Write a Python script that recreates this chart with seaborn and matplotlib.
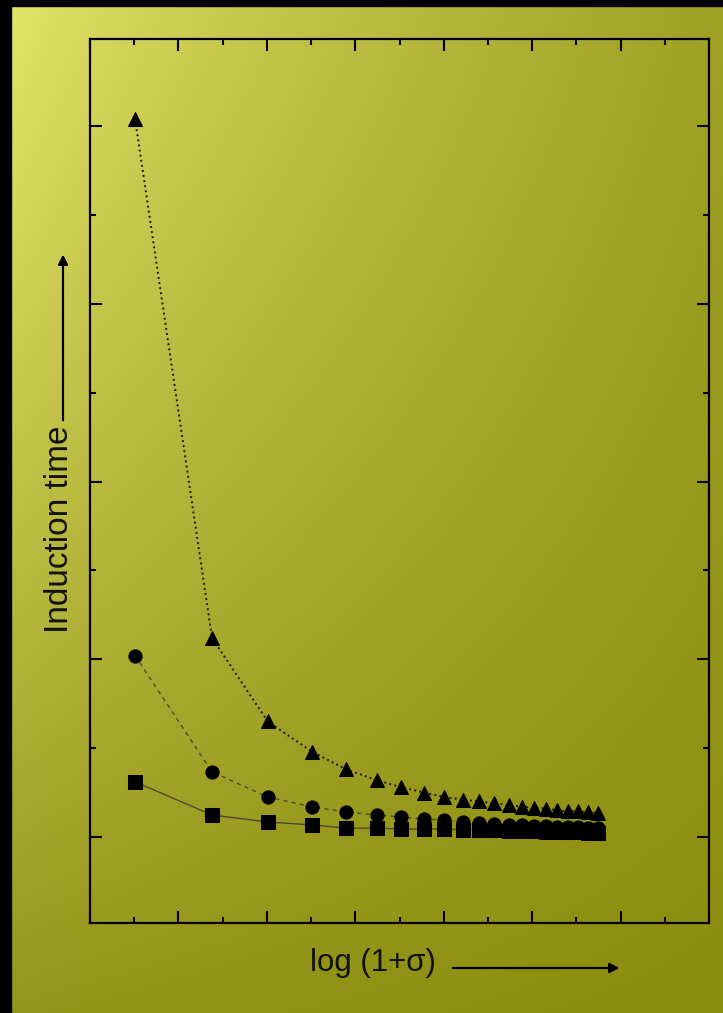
import numpy as np
import seaborn as sns
import matplotlib.pyplot as plt
from matplotlib.ticker import MultipleLocator
from matplotlib.patches import Rectangle

# data (arbitrary units, no tick labels in the original)
log_sigma = [0.51, 1.38, 2.01, 2.51, 2.90, 3.24, 3.52, 3.78, 4.00, 4.22, 4.40,
             4.57, 4.74, 4.89, 5.02, 5.16, 5.28, 5.40, 5.52, 5.63, 5.74]
t_triangle = [5.04, 2.12, 1.65, 1.48, 1.38, 1.32, 1.28, 1.25, 1.225, 1.21, 1.20,
              1.19, 1.18, 1.17, 1.165, 1.16, 1.15, 1.145, 1.145, 1.14, 1.135]
t_circle = [2.02, 1.366, 1.225, 1.17, 1.14, 1.124, 1.113, 1.10, 1.096, 1.084, 1.079,
            1.073, 1.068, 1.068, 1.062, 1.062, 1.056, 1.056, 1.056, 1.05, 1.05]
t_square = [1.31, 1.124, 1.084, 1.068, 1.05, 1.05, 1.045, 1.045, 1.045, 1.04, 1.04,
            1.04, 1.034, 1.034, 1.034, 1.028, 1.028, 1.028, 1.028, 1.022, 1.022]

sns.set_style("ticks")
plt.rcParams['font.family'] = ['Liberation Sans', 'DejaVu Sans']

W, H = 723, 1013
fig = plt.figure(figsize=(W / 100, H / 100), dpi=100)

# gradient background: light yellow top-left to olive bottom-right
u = np.linspace(0, 1, W)[None, :] ** 0.75
v = np.linspace(0, 1, H)[:, None] ** 1.1
tl, tr, bl, br = (232, 232, 110), (160, 160, 38), (150, 150, 30), (140, 140, 15)
img = np.zeros((H, W, 3))
for c in range(3):
    img[:, :, c] = (tl[c] * (1 - u) * (1 - v) + tr[c] * u * (1 - v)
                    + bl[c] * (1 - u) * v + br[c] * u * v) / 255
bg = fig.add_axes([0, 0, 1, 1], zorder=-1)
bg.imshow(img, aspect='auto', extent=[0, 1, 0, 1])
bg.axis('off')

# black border on left and top
fig.patches.append(Rectangle((0, 0), 11 / W, 1, transform=fig.transFigure, color='black', zorder=0))
fig.patches.append(Rectangle((0, 1 - 6 / H), 1, 6 / H, transform=fig.transFigure, color='black', zorder=0))

ax = fig.add_axes([90 / W, 1 - 923 / H, (709 - 90) / W, (923 - 39) / H])
ax.set_facecolor('none')

sns.lineplot(x=log_sigma, y=t_triangle, ax=ax, color='#1a1a1a', linestyle=':', linewidth=1.4,
             marker='^', markersize=10, markerfacecolor='k', markeredgecolor='k',
             sort=False, estimator=None)
sns.lineplot(x=log_sigma, y=t_circle, ax=ax, color='#4a4a30', linestyle=(0, (3, 3)), linewidth=1.0,
             marker='o', markersize=9.5, markerfacecolor='k', markeredgecolor='k',
             sort=False, estimator=None)
sns.lineplot(x=log_sigma, y=t_square, ax=ax, color='#4a4a30', linestyle='-', linewidth=1.0,
             marker='s', markersize=10, markerfacecolor='k', markeredgecolor='k',
             sort=False, estimator=None)

ax.set_xlim(0, 7)
ax.set_ylim(0.516, 5.49)
ax.xaxis.set_major_locator(MultipleLocator(1))
ax.xaxis.set_minor_locator(MultipleLocator(0.5))
ax.yaxis.set_major_locator(MultipleLocator(1))
ax.yaxis.set_minor_locator(MultipleLocator(0.5))
ax.tick_params(which='both', direction='in', top=True, right=True,
               labelbottom=False, labelleft=False, width=1.5, color='k')
ax.tick_params(which='major', length=8.6)
ax.tick_params(which='minor', length=4.3)
for s in ax.spines.values():
    s.set_linewidth(1.6)
    s.set_color('k')
ax.set_xlabel('')
ax.set_ylabel('')

# axis captions with arrows
fig.text(60 / W, 1 - 633 / H, 'Induction time', rotation=90, ha='center', va='bottom',
         fontsize=24, color='#111111')
fig.text(310 / W, 1 - 963 / H, 'log (1+σ)', ha='left', va='center', fontsize=22.5, color='#111111')
arrow = dict(arrowstyle='-|>', color='k', lw=1.5, mutation_scale=14)
fig.add_artist(plt.annotate('', xy=(63 / W, 1 - 252 / H), xytext=(63 / W, 1 - 423 / H),
                            xycoords='figure fraction', arrowprops=arrow))
fig.add_artist(plt.annotate('', xy=(622 / W, 1 - 968 / H), xytext=(450 / W, 1 - 968 / H),
                            xycoords='figure fraction', arrowprops=arrow))

plt.savefig("out.png", dpi=100)
